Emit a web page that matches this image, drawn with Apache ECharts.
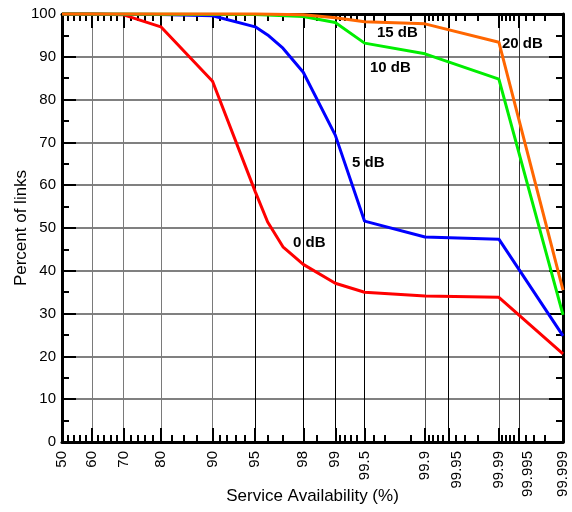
<!DOCTYPE html>
<html>
<head>
<meta charset="utf-8">
<script src="https://cdn.jsdelivr.net/npm/echarts@6/dist/echarts.min.js"></script>
<style>
  html, body { margin: 0; padding: 0; background: #fff; }
  #chart { width: 572px; height: 512px; }
</style>
</head>
<body>
<div id="chart"></div>
<script>
// Service availability (%) on a normal-probability scale vs. percent of links
const tickLabels = ['50', '60', '70', '80', '90', '95', '98', '99', '99.5', '99.9', '99.95', '99.99', '99.995', '99.999'];
const majorTicks = [60, 70, 80, 90, 95, 98, 99, 99.5, 99.9, 99.95, 99.99, 99.995];
const minorTicks = [52, 54, 56, 58, 62, 64, 66, 68, 72, 74, 76, 78, 82.5, 85, 87.5,
  91, 92, 93, 94, 96, 97, 98.5, 99.1, 99.2, 99.3, 99.4, 99.6, 99.7, 99.85,
  99.91, 99.92, 99.93, 99.94, 99.96, 99.97, 99.98,
  99.991, 99.992, 99.993, 99.994, 99.996, 99.997, 99.998];

const avail0dB = [50, 60, 70, 80, 90, 95, 96, 97, 98, 99, 99.5, 99.9, 99.99, 99.999];
const links0dB = [100, 100, 99.8, 97, 84.3, 58.5, 51.4, 45.6, 41.5, 37.1, 35, 34.1, 33.8, 20.6];

const avail5dB = [50, 80, 90, 95, 96, 97, 98, 99, 99.5, 99.9, 99.99, 99.999];
const links5dB = [100, 99.9, 99.6, 97, 95.1, 92, 86.4, 71.7, 51.6, 47.9, 47.4, 24.8];

const avail10dB = [50, 95, 98, 99, 99.5, 99.9, 99.99, 99.999];
const links10dB = [100, 99.9, 99.4, 98, 93.2, 90.7, 84.8, 29.7];

const avail15dB = [50, 95, 98, 99, 99.5, 99.9, 99.99, 99.999];
const links15dB = [100, 100, 99.8, 99.1, 98.2, 97.7, 93.4, 35.5];

// Inverse of the standard normal CDF (Acklam's rational approximation)
function probit(p) {
  const a = [-3.969683028665376e+01, 2.209460984245205e+02, -2.759285104469687e+02, 1.383577518672690e+02, -3.066479806614716e+01, 2.506628277459239e+00];
  const b = [-5.447609879822406e+01, 1.615858368580409e+02, -1.556989798598866e+02, 6.680131188771972e+01, -1.328068155288572e+01];
  const c = [-7.784894002430293e-03, -3.223964580411365e-01, -2.400758277161838e+00, -2.549671010060685e+00, 4.374664141464968e+00, 2.938163982698783e+00];
  const d = [7.784695709041462e-03, 3.224671290700398e-01, 2.445134137142996e+00, 3.754408661907416e+00];
  const pl = 0.02425, ph = 1 - pl;
  let q, r;
  if (p < pl) {
    q = Math.sqrt(-2 * Math.log(p));
    return (((((c[0] * q + c[1]) * q + c[2]) * q + c[3]) * q + c[4]) * q + c[5]) / ((((d[0] * q + d[1]) * q + d[2]) * q + d[3]) * q + 1);
  }
  if (p <= ph) {
    q = p - 0.5; r = q * q;
    return (((((a[0] * r + a[1]) * r + a[2]) * r + a[3]) * r + a[4]) * r + a[5]) * q / (((((b[0] * r + b[1]) * r + b[2]) * r + b[3]) * r + b[4]) * r + 1);
  }
  q = Math.sqrt(-2 * Math.log(1 - p));
  return -(((((c[0] * q + c[1]) * q + c[2]) * q + c[3]) * q + c[4]) * q + c[5]) / ((((d[0] * q + d[1]) * q + d[2]) * q + d[3]) * q + 1);
}
const px = v => probit(v / 100);

const xMin = px(50);
const xMax = px(99.999);
const labelPos = tickLabels.map(t => px(parseFloat(t)));
// crowded labels are nudged right a little
const nudged = ['99.95', '99.995'];

function labelText(value) {
  for (let i = 0; i < labelPos.length; i++) {
    if (Math.abs(labelPos[i] - value) < 1e-9) {
      const t = tickLabels[i];
      return nudged.indexOf(t) >= 0 ? '{n|' + t + '}' : t;
    }
  }
  return '';
}

const FONT = 'Liberation Sans, Arial, sans-serif';
const pairs = (xs, ys) => xs.map((x, i) => [px(x), ys[i]]);

// darker / lighter vertical grid lines in the order of majorTicks
const vGridColors = ['#7a7a7a', '#7a7a7a', '#7a7a7a', '#7a7a7a', '#000', '#000', '#000', '#000', '#555', '#000', '#555', '#333'];

const tickLine = { color: '#000', width: 2 };

const chart = echarts.init(document.getElementById('chart'), null, { renderer: 'canvas' });
chart.setOption({
  animation: false,
  backgroundColor: '#fff',
  grid: { left: 62, right: 9, top: 14, bottom: 70, containLabel: false, outerBoundsMode: 'none' },
  xAxis: [
    {
      type: 'value', position: 'bottom', min: xMin, max: xMax,
      name: 'Service Availability (%)', nameLocation: 'middle', nameGap: 46, nameMoveOverlap: false,
      nameTextStyle: { fontFamily: FONT, fontSize: 17, color: '#000' },
      axisLine: { show: true, onZero: false, lineStyle: { color: '#000', width: 3 } },
      axisTick: { show: true, inside: true, length: 14, lineStyle: tickLine, customValues: majorTicks.map(px) },
      axisLabel: {
        show: true, rotate: 90, margin: 9, fontFamily: FONT, fontSize: 15, color: '#000',
        customValues: labelPos, showMinLabel: true, showMaxLabel: true,
        formatter: labelText,
        rich: { n: { fontFamily: FONT, fontSize: 15, color: '#000', padding: [17, 0, 0, 0] } }
      },
      splitLine: { show: true, lineStyle: { color: vGridColors, width: 1 } }
    },
    {
      type: 'value', position: 'bottom', min: xMin, max: xMax,
      axisLine: { show: false, onZero: false },
      axisTick: { show: true, inside: true, length: 7, lineStyle: tickLine, customValues: minorTicks.map(px) },
      axisLabel: { show: false }, splitLine: { show: false }
    },
    {
      type: 'value', position: 'top', min: xMin, max: xMax,
      axisLine: { show: true, onZero: false, lineStyle: { color: '#000', width: 3 } },
      axisTick: { show: true, inside: true, length: 14, lineStyle: tickLine, customValues: majorTicks.map(px) },
      axisLabel: { show: false }, splitLine: { show: false }
    },
    {
      type: 'value', position: 'top', min: xMin, max: xMax,
      axisLine: { show: false, onZero: false },
      axisTick: { show: true, inside: true, length: 7, lineStyle: tickLine, customValues: minorTicks.map(px) },
      axisLabel: { show: false }, splitLine: { show: false }
    }
  ],
  yAxis: [
    {
      type: 'value', position: 'left', min: 0, max: 100, interval: 10,
      name: 'Percent of links', nameLocation: 'middle', nameGap: 32, nameMoveOverlap: false,
      nameTextStyle: { fontFamily: FONT, fontSize: 17, color: '#000' },
      axisLine: { show: true, onZero: false, lineStyle: { color: '#000', width: 3 } },
      axisTick: { show: true, inside: true, length: 14, lineStyle: tickLine },
      minorTick: { show: true, splitNumber: 2, length: 7, lineStyle: tickLine },
      axisLabel: { show: true, margin: 6, fontFamily: FONT, fontSize: 15, color: '#000' },
      splitLine: { show: true, lineStyle: { color: '#808080', width: 2 } }
    },
    {
      type: 'value', position: 'right', min: 0, max: 100, interval: 10,
      axisLine: { show: true, onZero: false, lineStyle: { color: '#000', width: 3 } },
      axisTick: { show: true, inside: true, length: 14, lineStyle: tickLine },
      minorTick: { show: true, splitNumber: 2, length: 7, lineStyle: tickLine },
      axisLabel: { show: false }, splitLine: { show: false }
    }
  ],
  series: [
    { name: '0 dB', type: 'line', data: pairs(avail0dB, links0dB), color: '#ff0000' },
    { name: '5 dB', type: 'line', data: pairs(avail5dB, links5dB), color: '#0000ff' },
    { name: '10 dB', type: 'line', data: pairs(avail10dB, links10dB), color: '#00ee00' },
    { name: '15 dB', type: 'line', data: pairs(avail15dB, links15dB), color: '#ff6600' }
  ].map(s => Object.assign(s, {
    xAxisIndex: 0, yAxisIndex: 0, showSymbol: false, symbol: 'none', clip: false,
    lineStyle: { width: 3, color: s.color }, z: 5
  })),
  graphic: [
    ['15 dB', 377, 33], ['20 dB', 502, 44], ['10 dB', 370, 68], ['5 dB', 352, 163], ['0 dB', 293, 243]
  ].map(([t, x, y]) => ({
    type: 'text', x: x, y: y, z: 100,
    style: { text: t, font: 'bold 15px ' + FONT, fill: '#000', align: 'left', verticalAlign: 'middle' }
  }))
});
</script>
</body>
</html>
